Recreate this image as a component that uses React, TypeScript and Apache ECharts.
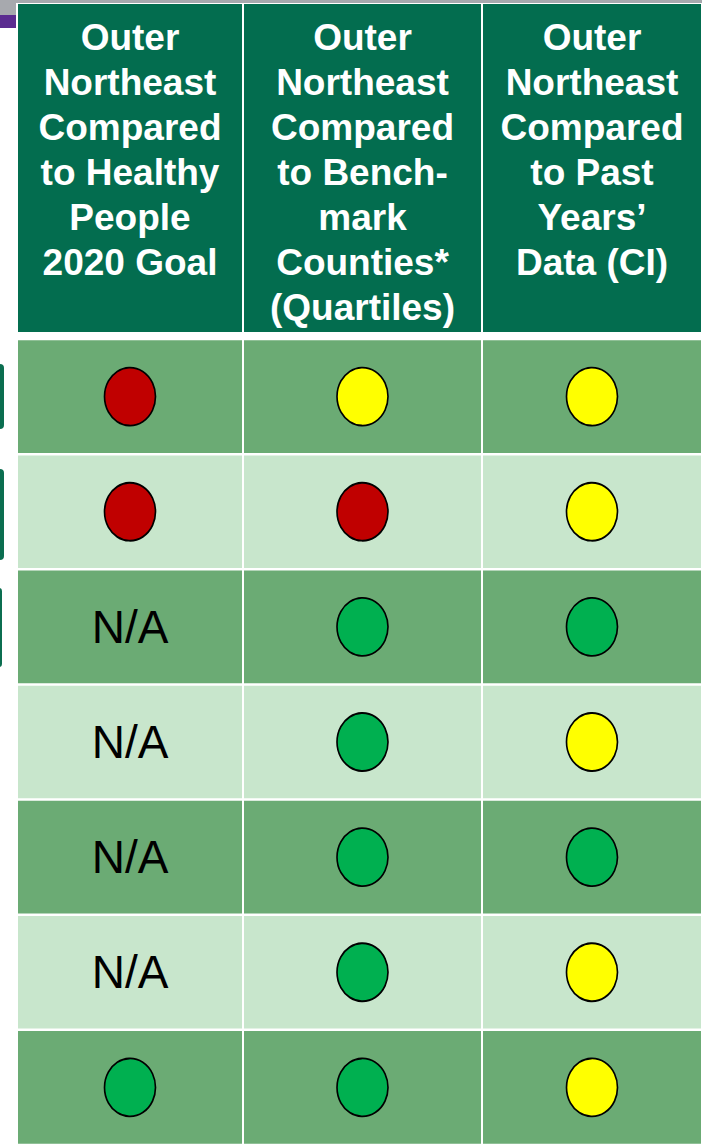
import React, { useEffect, useRef } from "react";
import * as echarts from "echarts";

// ---- data ----
const columnHeaders = [
  "Outer\nNortheast\nCompared\nto Healthy\nPeople\n2020 Goal",
  "Outer\nNortheast\nCompared\nto Bench-\nmark\nCounties*\n(Quartiles)",
  "Outer\nNortheast\nCompared\nto Past\nYears’\nData (CI)",
];
const rowIds = ["r1", "r2", "r3", "r4", "r5", "r6", "r7"];
const healthyPeopleGoal = ["red", "red", "N/A", "N/A", "N/A", "N/A", "green"];
const benchmarkCounties = ["yellow", "red", "green", "green", "green", "green", "green"];
const pastYearsData = ["yellow", "yellow", "green", "yellow", "green", "yellow", "yellow"];
const columnStatus = [healthyPeopleGoal, benchmarkCounties, pastYearsData];

// ---- styles ----
const STATUS_COLORS: Record<string, string> = {
  red: "#C00000",
  yellow: "#FFFF00",
  green: "#00B050",
};
const HEADER_BG = "#036D4F";
const ROW_DARK = "#6BAB74";
const ROW_LIGHT = "#C8E6CC";
const FONT = '"Liberation Sans", Arial, sans-serif';

const colLeft = [17, 243, 482];
const colWidth = [226, 239, 222];

export default function App() {
  const ref = useRef<HTMLDivElement>(null);

  useEffect(() => {
    if (!ref.current) return;
    const chart = echarts.init(ref.current, undefined, { renderer: "svg" });

    const grids: any[] = [];
    const xAxes: any[] = [];
    const yAxes: any[] = [];
    const series: any[] = [];

    // header grids 0..2
    for (let i = 0; i < 3; i++) {
      grids.push({ left: colLeft[i], width: colWidth[i], top: 3, height: 330 });
      xAxes.push({ type: "category", gridIndex: i, data: ["c"], show: false });
      yAxes.push({ type: "category", gridIndex: i, data: ["h"], show: false });
    }
    // body grids 3..5
    for (let i = 0; i < 3; i++) {
      grids.push({ left: colLeft[i], width: colWidth[i], top: 339, height: 808 });
      xAxes.push({ type: "category", gridIndex: 3 + i, data: ["c"], show: false });
      yAxes.push({
        type: "category",
        gridIndex: 3 + i,
        data: rowIds,
        inverse: true,
        show: false,
      });
    }

    for (let i = 0; i < 3; i++) {
      const text = columnHeaders[i];
      series.push({
        type: "custom",
        xAxisIndex: i,
        yAxisIndex: i,
        silent: true,
        data: [[0, 0]],
        renderItem: (_p: any, api: any) => {
          const c = api.coord([api.value(0), api.value(1)]);
          const s = api.size([1, 1]);
          const x0 = c[0] - s[0] / 2;
          const y0 = c[1] - s[1] / 2;
          return {
            type: "group",
            children: [
              {
                type: "rect",
                shape: { x: x0 + 1, y: y0 + 1, width: s[0] - 2, height: s[1] - 2 },
                style: { fill: HEADER_BG },
              },
              {
                type: "text",
                style: {
                  text,
                  x: c[0],
                  y: y0 + 11.5,
                  align: "center",
                  verticalAlign: "top",
                  fill: "#ffffff",
                  fontSize: 37,
                  fontWeight: "bold",
                  fontFamily: FONT,
                  lineHeight: 45,
                },
              },
            ],
          };
        },
      });

      // cell backgrounds
      series.push({
        type: "custom",
        xAxisIndex: 3 + i,
        yAxisIndex: 3 + i,
        silent: true,
        data: rowIds.map((_r, r) => [0, r]),
        renderItem: (_p: any, api: any) => {
          const r = api.value(1);
          const c = api.coord([api.value(0), r]);
          const s = api.size([1, 1]);
          return {
            type: "rect",
            shape: {
              x: c[0] - s[0] / 2 + 1,
              y: c[1] - s[1] / 2 + 1.25,
              width: s[0] - 2,
              height: s[1] - 2.5,
            },
            style: { fill: r % 2 === 0 ? ROW_DARK : ROW_LIGHT },
          };
        },
      });

      const statuses = columnStatus[i];
      // status circles
      series.push({
        type: "scatter",
        xAxisIndex: 3 + i,
        yAxisIndex: 3 + i,
        symbol: "circle",
        symbolSize: [51, 58],
        silent: true,
        itemStyle: { opacity: 1 },
        data: statuses
          .map((st, r) => ({ st, r }))
          .filter((d) => d.st !== "N/A")
          .map((d) => ({
            value: [0, d.r],
            itemStyle: {
              color: STATUS_COLORS[d.st],
              borderColor: "#000000",
              borderWidth: 1.75,
              opacity: 1,
            },
          })),
      });
      // N/A labels
      series.push({
        type: "scatter",
        xAxisIndex: 3 + i,
        yAxisIndex: 3 + i,
        symbolSize: 1,
        silent: true,
        itemStyle: { color: "rgba(0,0,0,0)", opacity: 1 },
        label: {
          show: true,
          position: "inside",
          formatter: "N/A",
          color: "#000000",
          fontSize: 46,
          fontFamily: FONT,
          textBorderWidth: 0,
        },
        data: statuses
          .map((st, r) => ({ st, r }))
          .filter((d) => d.st === "N/A")
          .map((d) => [0, d.r]),
      });
    }

    chart.setOption({
      animation: false,
      backgroundColor: "#ffffff",
      grid: grids,
      xAxis: xAxes,
      yAxis: yAxes,
      series,
      graphic: [
        { type: "rect", shape: { x: 0, y: 0, width: 702, height: 3 }, style: { fill: "#A7A9AE" } },
        { type: "rect", shape: { x: 0, y: 0, width: 16, height: 15 }, style: { fill: "#A7A9AE" } },
        { type: "rect", shape: { x: 0, y: 15, width: 16, height: 13 }, style: { fill: "#5B2C90" } },
        { type: "rect", shape: { x: -10, y: 364, width: 14, height: 65, r: 4 }, style: { fill: "#0B6E50" } },
        { type: "rect", shape: { x: -10, y: 469, width: 14, height: 91, r: 4 }, style: { fill: "#0B6E50" } },
        { type: "rect", shape: { x: -10, y: 588, width: 12, height: 79, r: 3 }, style: { fill: "#0B6E50" } },
      ],
    });

    return () => chart.dispose();
  }, []);

  return (
    <div
      ref={ref}
      style={{ position: "absolute", left: 0, top: 0, width: 702, height: 1145 }}
    />
  );
}
